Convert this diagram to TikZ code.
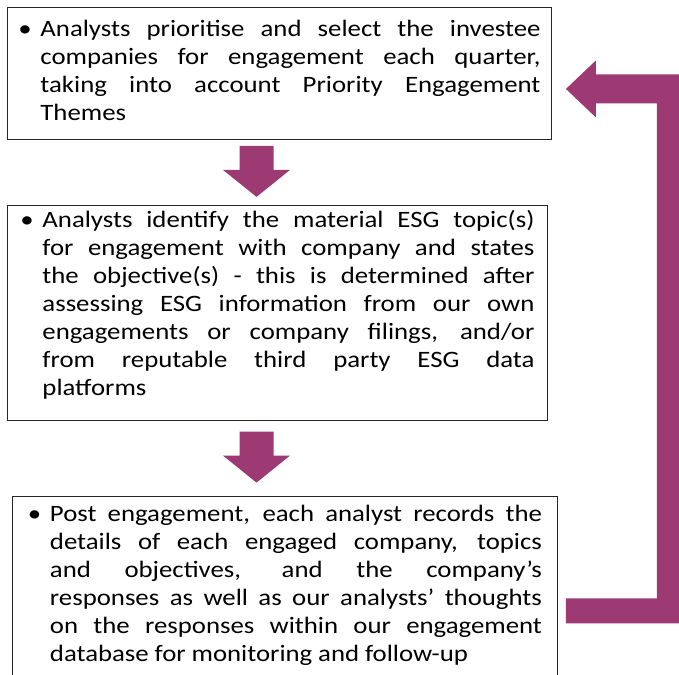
\documentclass[tikz,border=0pt]{standalone}
\usepackage{fontspec}
\setmainfont{Carlito}[FakeStretch=1.14]
\usepackage{tikz}
\usetikzlibrary{positioning,calc}

\definecolor{plum}{RGB}{157,57,115}
\newcommand\stepitem[1]{\noindent\leftskip=22pt\hskip-22pt\makebox[22pt][l]{\textbullet}#1\par}

\begin{document}
\begin{tikzpicture}[x=1pt,y=-1pt,
  every node/.style={font=\fontsize{23.5}{28}\selectfont},
  stepbox/.style={draw=black!85,line width=0.9pt,align=justify,inner ysep=0pt,anchor=north west,
    execute at begin node={\tolerance=9999\spaceskip=0.25em plus 2em minus 0.12em}},
  flowarrow/.style={fill=plum},
  fatdown/.pic={\fill[flowarrow] (-17,0) -- (17,0) -- (17,24) -- (33.5,24) -- (0,51) -- (-33.5,24) -- (-17,24) -- cycle;}]
\useasboundingbox (0,0) rectangle (679,674);
\clip (0,0) rectangle (679,674);

\node[stepbox,text width=522pt,inner xsep=11pt] (select) at (7,7) {\stepitem{\rule{0pt}{29pt}Analysts prioritise and select the investee\linebreak companies for engagement each quarter,\linebreak taking into account Priority Engagement\linebreak Themes\rule[-19pt]{0pt}{0pt}}};
\node[stepbox,text width=514pt,inner xsep=13pt,below=65pt of select.south west,anchor=north west] (identify) {\stepitem{\rule{0pt}{22.5pt}Analysts identify the material ESG topic(s)\linebreak for engagement with company and states\linebreak the objective(s) - this is determined after\linebreak assessing ESG information from our own\linebreak engagements or company filings, and/or\linebreak from reputable third party ESG data\linebreak platforms\rule[-24.3pt]{0pt}{0pt}}};
\node[stepbox,text width=514pt,inner xsep=15.5pt,below=75pt of identify.south west,anchor=north west,xshift=5pt] (record) {\stepitem{\rule{0pt}{25pt}Post engagement, each analyst records the\linebreak details of each engaged company, topics\linebreak and objectives, and the company’s\linebreak responses as well as our analysts’ thoughts\linebreak on the responses within our engagement\linebreak database for monitoring and follow-up\rule[-40pt]{0pt}{0pt}}};

% arrows between the steps
\pic at ([xshift=249.5pt,yshift=-6pt]select.south west) {fatdown};
\pic at ([xshift=249.5pt,yshift=-11pt]identify.south west) {fatdown};

% loop back to the first step
\coordinate (back tip) at ([xshift=14pt,yshift=-15.5pt]select.east);
\fill[flowarrow] (back tip) -- ++(30,-28.5) -- ++(0,14) -- ++(95,0) -- ++(0,549) -- ++(-125,0) -- ++(0,-25) -- ++(91,0) -- ++(0,-495) -- ++(-61,0) -- ++(0,14) -- cycle;

\end{tikzpicture}
\end{document}
